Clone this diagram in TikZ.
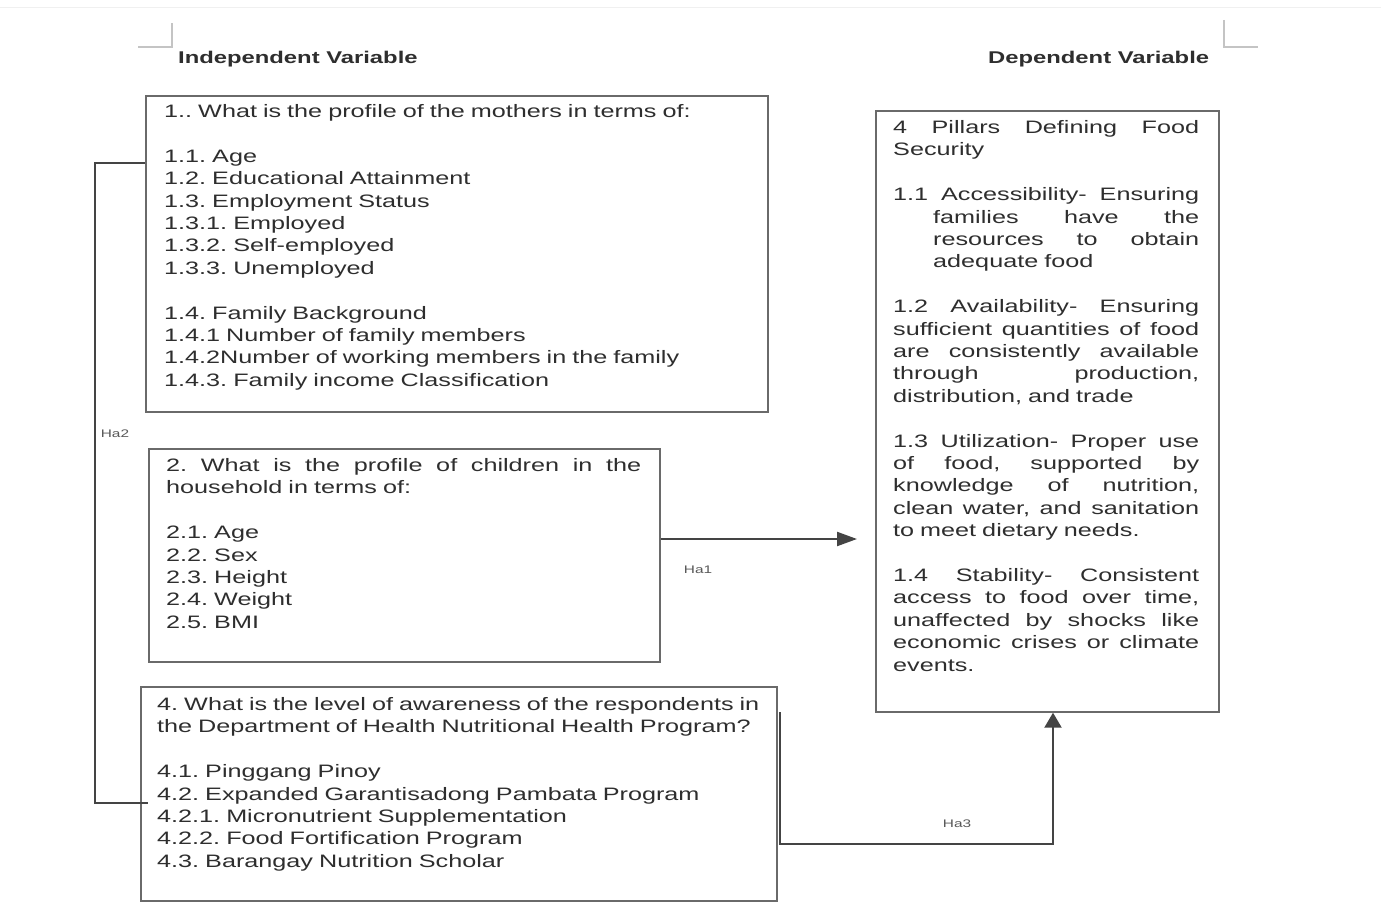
\documentclass[tikz,border=0pt]{standalone}
\usepackage{fontspec}
\setmainfont{Liberation Sans}[FakeStretch=1.40]
\usetikzlibrary{arrows.meta,calc}
\definecolor{txt}{HTML}{2E2E2E}
\definecolor{boxc}{HTML}{6A6A6A}
\definecolor{lnc}{HTML}{444444}
\definecolor{markc}{HTML}{C4C4C4}
\newcommand{\jl}[2][306pt]{\makebox[#1][s]{\spaceskip=.3em plus 4em\relax #2}}
\begin{document}
\frenchspacing
\begin{tikzpicture}[x=1pt,y=-1pt,
  boxn/.style={draw=boxc,line width=1.7pt,anchor=north west,inner sep=0pt},
  txtn/.style={anchor=base west,inner sep=0pt,align=left,text=txt,font=\fontsize{18}{22.4}\selectfont\frenchspacing},
  hdr/.style={anchor=base west,inner sep=0pt,text=txt,font=\fontsize{17}{20}\selectfont\bfseries},
  halbl/.style={inner sep=0pt,text=black!65,font=\fontsize{11}{13}\selectfont},
  conn/.style={draw=lnc,line width=2.2pt},
  tip/.style={-{Triangle[length=20pt,width=14pt]}}
]
\path[fill=white,use as bounding box] (0,0) rectangle (1381,920);
\draw[black!6,line width=1pt] (0,8) -- (1381,8);
% corner marks
\draw[markc,line width=1.5pt] (138,47) -- (172,47) -- (172,23);
\draw[markc,line width=1.5pt] (1224,20) -- (1224,47) -- (1258,47);
% headers
\node[hdr] (iv) at (178,64) {Independent Variable};
\node[hdr] (dv) at (988,64) {Dependent Variable};
% boxes
\node[boxn,minimum width=622pt,minimum height=316pt] (b1) at (145,95) {};
\node[boxn,minimum width=511pt,minimum height=213pt] (b2) at (148,448) {};
\node[boxn,minimum width=636pt,minimum height=214pt] (b3) at (140,686) {};
\node[boxn,minimum width=343pt,minimum height=601pt] (b4) at (875,110) {};
% texts
\node[txtn,text width=600pt] (t1) at (164,117.5) {1.. What is the profile of the mothers in terms of:\\[22.4pt]
1.1. Age\\
1.2. Educational Attainment\\
1.3. Employment Status\\
1.3.1. Employed\\
1.3.2. Self-employed\\
1.3.3. Unemployed\\[22.4pt]
1.4. Family Background\\
1.4.1 Number of family members\\
1.4.2Number of working members in the family\\
1.4.3. Family income Classification};
\node[txtn,text width=490pt] (t2) at (166,471.5) {\jl[475pt]{2. What is the profile of children in the}\\
household in terms of:\\[22.4pt]
2.1. Age\\
2.2. Sex\\
2.3. Height\\
2.4. Weight\\
2.5. BMI};
\node[txtn,text width=615pt] (t3) at (157,710.5) {4. What is the level of awareness of the respondents in\\
the Department of Health Nutritional Health Program?\\[22.4pt]
4.1. Pinggang Pinoy\\
4.2. Expanded Garantisadong Pambata Program\\
4.2.1. Micronutrient Supplementation\\
4.2.2. Food Fortification Program\\
4.3. Barangay Nutrition Scholar};
\node[txtn,text width=320pt] (t4) at (893,133.5) {\jl{4 Pillars Defining Food}\\
Security\\[22.4pt]
\jl{1.1 Accessibility- Ensuring}\\
\hspace*{40pt}\jl[266pt]{families have the}\\
\hspace*{40pt}\jl[266pt]{resources to obtain}\\
\hspace*{40pt}adequate food\\[22.4pt]
\jl{1.2 Availability- Ensuring}\\
\jl{sufficient quantities of food}\\
\jl{are consistently available}\\
\jl{through production,}\\
distribution, and trade\\[22.4pt]
\jl{1.3 Utilization- Proper use}\\
\jl{of food, supported by}\\
\jl{knowledge of nutrition,}\\
\jl{clean water, and sanitation}\\
to meet dietary needs.\\[22.4pt]
\jl{1.4 Stability- Consistent}\\
\jl{access to food over time,}\\
\jl{unaffected by shocks like}\\
\jl{economic crises or climate}\\
events.};
% connectors
\draw[conn] ($(b1.north west)+(0,68)$) -- ++(-50,0) |- ($(b3.north west)+(8,117)$);
\draw[conn,tip] ($(b2.north east)+(0,91)$) -- ($(b2.north east -| b4.west)+(-18,91)$);
\draw[conn,-{Triangle[length=15pt,width=17pt]}] ($(b3.north east)+(2,26)$) |- ($(b4.south west)+(178,131)$) -- ($(b4.south west)+(178,0)$);
% labels
\node[halbl] (ha2) at (115,434) {Ha2};
\node[halbl] (ha1) at (698,570) {Ha1};
\node[halbl] (ha3) at (957,824) {Ha3};
\end{tikzpicture}
\end{document}
